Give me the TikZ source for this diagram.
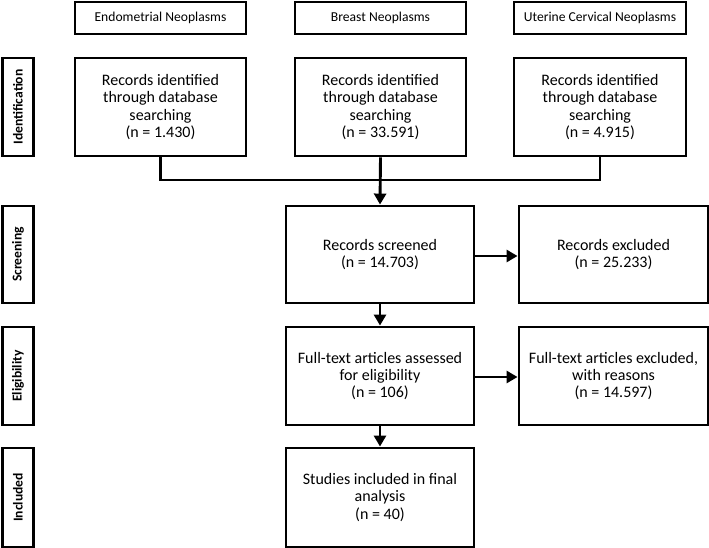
\documentclass[tikz,border=0pt]{standalone}
\usepackage{fontspec}
\setmainfont{Carlito}
\usetikzlibrary{arrows.meta}
\begin{document}
\begin{tikzpicture}[x=1pt,y=-1pt,
  box/.style={draw=black,line width=2.9pt,inner sep=0pt,align=center,
    font=\fontsize{16}{17.3}\selectfont},
  head/.style={draw=black,line width=2.9pt,inner sep=0pt,align=center,
    font=\fontsize{13.6}{16}\selectfont},
  side/.style={draw=black,line width=2.9pt,inner sep=0pt,align=center,
    font=\bfseries\fontsize{13.6}{16}\selectfont,rotate=90},
  conn/.style={line width=2.9pt},
  arr/.style={line width=2.9pt,-{Triangle[length=11pt,width=12pt]}}]
\useasboundingbox (0,0) rectangle (709,548);
% headers
\node[head,minimum width=171pt,minimum height=32pt] (hEndo) at (160.5,18) {Endometrial Neoplasms};
\node[head,minimum width=171pt,minimum height=32pt] (hBreast) at (380.5,18) {Breast Neoplasms};
\node[head,minimum width=172pt,minimum height=32pt] (hUter) at (600,18) {Uterine Cervical Neoplasms};
% side labels
\node[side,minimum width=98pt,minimum height=31pt] (sId) at (18,107) {Identification};
\node[side,minimum width=97pt,minimum height=31pt] (sSc) at (18,254.5) {Screening};
\node[side,minimum width=98pt,minimum height=31pt] (sEl) at (18,376) {Eligibility};
\node[side,minimum width=99pt,minimum height=31pt] (sIn) at (18,497.5) {Included};
% identification boxes
\node[box,minimum width=171pt,minimum height=98pt] (rEndo) at (160.5,107)
  {Records identified\\through database\\searching\\(n = 1.430)};
\node[box,minimum width=171pt,minimum height=98pt] (rBreast) at (380.5,107)
  {Records identified\\through database\\searching\\(n = 33.591)};
\node[box,minimum width=172pt,minimum height=98pt] (rUter) at (600,107)
  {Records identified\\through database\\searching\\(n = 4.915)};
% screening
\node[box,minimum width=188pt,minimum height=97pt] (scr) at (380,254.5)
  {Records screened\\(n = 14.703)};
\node[box,minimum width=189pt,minimum height=97pt] (exc) at (613.5,254.5)
  {Records excluded\\(n = 25.233)};
% eligibility
\node[box,minimum width=188pt,minimum height=98pt] (full) at (380,376)
  {Full-text articles assessed\\for eligibility\\(n = 106)};
\node[box,minimum width=189pt,minimum height=98pt] (fexc) at (613.5,376)
  {Full-text articles excluded,\\with reasons\\(n = 14.597)};
% included
\node[box,minimum width=188pt,minimum height=99pt] (inc) at (380,497.5)
  {Studies included in final\\analysis\\(n = 40)};
% connectors
\coordinate (jl) at (160.5,180);
\coordinate (jr) at (600,180);
\draw[conn] (rEndo.south) -- (jl) -- (jr) -- (rUter.south);
\draw[arr] (rBreast.south) -- (scr.north);
\draw[arr] (scr.east |- 0,256) -- (exc.west |- 0,256);
\draw[arr] (scr) -- (full);
\draw[arr] (full.east |- 0,377) -- (fexc.west |- 0,377);
\draw[arr] (full) -- (inc);
\end{tikzpicture}
\end{document}
